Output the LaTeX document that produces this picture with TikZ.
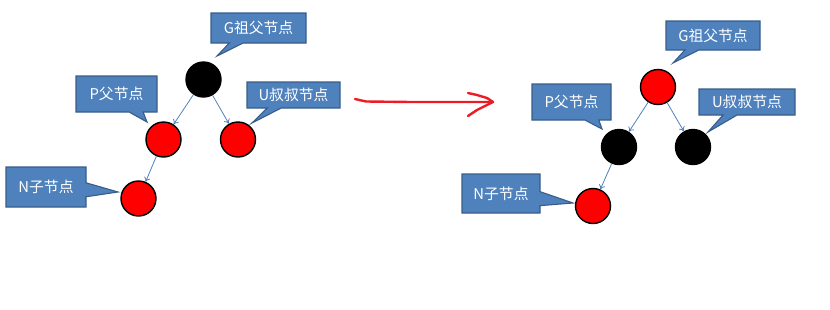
\documentclass[tikz,border=0pt]{standalone}
\usepackage{fontspec}
\newfontfamily\cjk{Noto Sans CJK SC}
\usetikzlibrary{arrows.meta,shapes.callouts}
\definecolor{office}{RGB}{79,129,189}
\definecolor{officedark}{RGB}{56,93,138}
\definecolor{marker}{RGB}{237,28,36}
\tikzset{
  >={To[length=4.5pt,width=6.5pt]},
  knot/.style={circle,draw=black,line width=1.4pt,fill=#1,minimum size=35pt,inner sep=0pt},
  knot/.default=red,
  note/.style={rectangle callout,draw=officedark,line width=1.1pt,fill=office,text=white,
    inner sep=0pt,callout pointer width=14pt,font=\cjk\fontsize{14.8}{16}\selectfont},
  link/.style={->,draw=office,line width=0.8pt},
  hand/.style={draw=marker,line width=2.4pt,line cap=round,line join=round},
}

\begin{document}
\begin{tikzpicture}[x=1pt,y=-1pt]
    \useasboundingbox (0,0) rectangle (830,309);
    % before
    \node[knot=black] (g1) at (203.5,79.5) {};
    \node[knot] (p1) at (163.5,139.5) {};
    \node[knot] (u1) at (238,139.5) {};
    \node[knot] (n1) at (138.5,198.5) {};
    \draw[link] (g1) -- (p1);
    \draw[link] (g1) -- (u1);
    \draw[link] (p1) -- (n1);
    \node[note,minimum width=95pt,minimum height=30pt,callout absolute pointer={(217,56)}] (lg) at (258.5,28) {G祖父节点};
    \node[note,minimum width=81pt,minimum height=36pt,callout absolute pointer={(147,122)}] (lp) at (116.5,94) {P父节点};
    \node[note,minimum width=93pt,minimum height=26pt,callout absolute pointer={(252,123)}] (lu) at (293.5,95) {U叔叔节点};
    \node[note,minimum width=80pt,minimum height=40pt,callout absolute pointer={(118,192)}] (ln) at (46,187) {N子节点};
    % red marker arrow
    \coordinate (from) at (355,99);
    \coordinate (to) at (493,102);
    \draw[hand] (from) -- (366,101.5) -- (412,102) -- (to);
    \draw[hand] (468,93) -- (477,95) -- (487,98) -- (to) -- (487,105) -- (477,110) -- (468,116);
    % after
    \node[knot] (g2) at (658,87) {};
    \node[knot=black] (p2) at (619,147) {};
    \node[knot=black] (u2) at (693,147) {};
    \node[knot] (n2) at (593,206) {};
    \draw[link] (g2) -- (p2);
    \draw[link] (g2) -- (u2);
    \draw[link] (p2) -- (n2);
    \node[note,minimum width=94pt,minimum height=29pt,callout absolute pointer={(673,63)}] (rg) at (713,35.5) {G祖父节点};
    \node[note,minimum width=79pt,minimum height=36pt,callout absolute pointer={(602,129)}] (rp) at (571.5,102) {P父节点};
    \node[note,minimum width=96pt,minimum height=26pt,callout absolute pointer={(708,132)}] (ru) at (747,102) {U叔叔节点};
    \node[note,minimum width=78pt,minimum height=39pt,callout absolute pointer={(573,203)}] (rn) at (501,193.5) {N子节点};
\end{tikzpicture}
\end{document}
